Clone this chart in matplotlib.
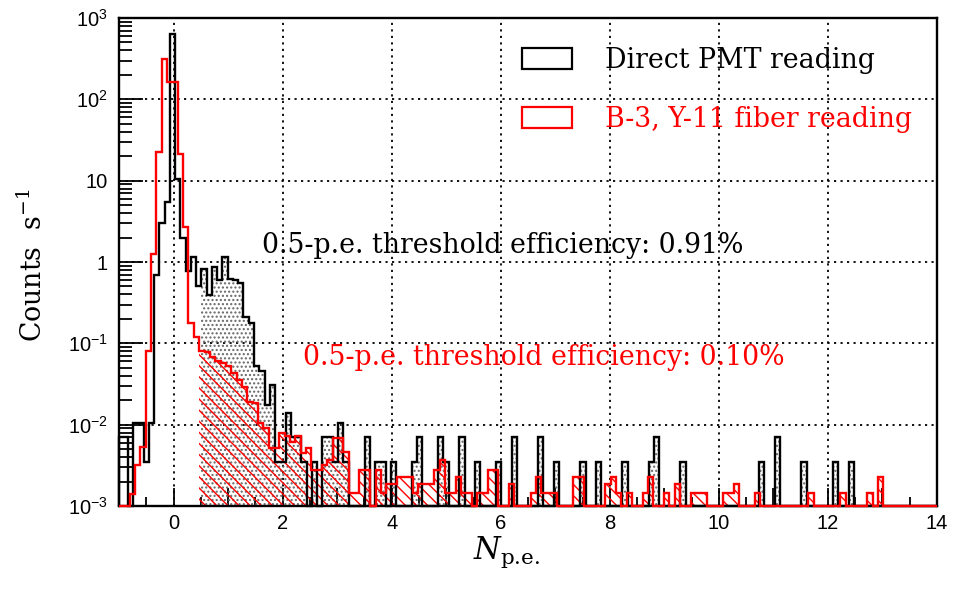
import numpy as np
import matplotlib
matplotlib.use('Agg')
from matplotlib import pyplot as plt
from matplotlib.patches import Patch
from matplotlib.ticker import FixedLocator, FixedFormatter, LogLocator, NullFormatter

# binning of the two charge spectra, in p.e.
pmt_x0, pmt_width = -1.033, 0.0965
fib_x0, fib_width = -1.0, 0.098

# direct PMT reading: rate per bin (counts/s), first bins up to ~3.2 p.e.
pmt_core = [
    7e-3, 7e-3, 0, 1.05e-2, 1.05e-2, 3.5e-3, 1.05e-2, 0.70, 3.05, 5.4,
    640, 10.5, 2.0, 0.78, 1.16, 0.50, 0.82, 0.39, 0.86, 0.60,
    1.15, 0.62, 0.60, 0.55, 0.21, 0.18, 0.052, 0.046, 0.0175, 0.031,
    3.5e-3, 3.5e-3, 0.014, 7e-3, 7e-3, 3.5e-3, 0, 3.5e-3, 0, 7e-3,
    7e-3, 3.5e-3, 1.05e-2, 3.5e-3,
]
# sparse tail of the direct reading
pmt_tail_pe = [3.57, 3.75, 3.84, 4.03, 4.45, 4.54, 4.91, 5.00, 5.29, 5.61,
               5.98, 6.28, 6.75, 7.04, 7.52, 7.81, 8.29, 8.77, 8.87, 9.37,
               10.79, 11.09, 11.57, 12.15, 12.44]
pmt_tail_rate = [7e-3, 3.5e-3, 3.5e-3, 3.5e-3, 3.5e-3, 7e-3, 7e-3, 3.5e-3, 7e-3, 3.5e-3,
                 3.5e-3, 7e-3, 7e-3, 3.5e-3, 3.5e-3, 3.5e-3, 3.5e-3, 3.5e-3, 7e-3, 3.5e-3,
                 3.5e-3, 7e-3, 3.5e-3, 3.5e-3, 3.5e-3]

# B-3 scintillator read out through Y-11 fibre
fib_core = [
    0, 0, 1.4e-3, 3.2e-3, 5.3e-3, 0.08, 1.25, 22.8, 312, 162,
    162, 21.2, 2.7, 0.177, 0.12, 0.081, 0.079, 0.068, 0.060, 0.058,
    0.052, 0.043, 0.035, 0.029, 0.019, 0.0183, 0.0104, 0.009, 5.1e-3, 5.1e-3,
    7.8e-3, 7.3e-3, 6.2e-3, 7.3e-3, 4.5e-3, 5.1e-3, 2.77e-3, 2.77e-3, 3.2e-3, 3.7e-3,
    6.8e-3, 6.8e-3, 4.6e-3, 1.43e-3, 1.43e-3, 2.77e-3, 2.77e-3, 0, 2.77e-3, 1.43e-3,
    1.86e-3, 1.86e-3, 2.3e-3, 2.3e-3, 2.3e-3, 1.43e-3, 1.86e-3, 1.86e-3, 1.86e-3, 2.77e-3,
    3.68e-3, 1.43e-3, 1.43e-3, 2.3e-3, 1.43e-3, 1.43e-3, 0, 1.43e-3, 1.43e-3, 2.77e-3,
    2.77e-3,
]
fib_tail_pe = [6.20, 6.60, 6.69, 6.79, 6.89, 6.99, 7.38, 7.48, 7.97, 8.07,
               8.16, 8.36, 8.65, 8.75, 9.05, 9.24, 9.54, 9.63, 9.73, 10.12,
               10.22, 10.32, 10.71, 11.69, 12.28, 12.77, 12.97]
fib_tail_rate = [1.86e-3, 1.43e-3, 2.3e-3, 1.43e-3, 1.43e-3, 1.43e-3, 2.3e-3, 2.3e-3, 1.86e-3, 2.3e-3,
                 1.43e-3, 1.43e-3, 1.43e-3, 2.3e-3, 1.43e-3, 1.86e-3, 1.43e-3, 1.43e-3, 1.43e-3, 1.43e-3,
                 1.43e-3, 1.86e-3, 1.43e-3, 1.43e-3, 1.43e-3, 1.43e-3, 2.3e-3]

threshold = 0.5
eff_pmt = 0.91
eff_fib = 0.10
labels = ['Direct PMT reading', 'B-3, Y-11 fiber reading']

xmin, xmax = -1, 14
ymin, ymax = 1e-3, 1e3


def build_hist(x0, width, core, tail_pe, tail_rate):
    nbins = int((xmax - x0) / width) + 1
    edges = np.clip(x0 + width * np.arange(nbins + 1), xmin, xmax)
    vals = np.zeros(nbins)
    vals[:len(core)] = core
    idx = np.floor((np.array(tail_pe) - x0) / width).astype(int)
    vals[idx] = tail_rate
    return edges, vals


plt.rcParams['font.family'] = ['Liberation Sans', 'DejaVu Sans']
plt.rcParams['mathtext.fontset'] = 'custom'
plt.rcParams['mathtext.rm'] = 'Liberation Sans'
plt.rcParams['mathtext.it'] = 'Liberation Sans:italic'
plt.rcParams['hatch.linewidth'] = 1.0
serif = 'DejaVu Serif'
tsize = 19.3

fig = plt.figure(figsize=(9.57, 5.90), dpi=100)
ax = fig.add_axes([119 / 957, 1 - 506 / 590, 818 / 957, 488 / 590])
ax.set_yscale('log')


def draw(edges, vals, color, hatch, hatch_color):
    shown = np.maximum(vals, ymin)
    centers = 0.5 * (edges[:-1] + edges[1:])
    first = int(np.argmax(centers >= threshold))
    ax.stairs(shown[first:], edges[first:], baseline=ymin, fill=True,
              facecolor='none', edgecolor=hatch_color, hatch=hatch,
              linewidth=0, zorder=2)
    ax.stairs(shown, edges, baseline=ymin, color=color, lw=1.7,
              zorder=3, clip_on=False)


e, v = build_hist(pmt_x0, pmt_width, pmt_core, pmt_tail_pe, pmt_tail_rate)
draw(e, v, 'black', '....', '#666666')
e, v = build_hist(fib_x0, fib_width, fib_core, fib_tail_pe, fib_tail_rate)
draw(e, v, 'red', '\\\\\\', 'red')

ax.set_xlim(xmin, xmax)
ax.set_ylim(ymin, ymax)

# grid at labelled x ticks and at decades
dot = (0, (1.2, 2.4))
for gx in range(0, 13, 2):
    ax.axvline(gx, color='black', lw=1.3, ls=dot, zorder=1)
for gy in 10.0 ** np.arange(-2, 3):
    ax.axhline(gy, color='black', lw=1.3, ls=dot, zorder=1)

decades = 10.0 ** np.arange(-3, 4)
ax.yaxis.set_major_locator(FixedLocator(decades))
ax.yaxis.set_major_formatter(FixedFormatter(
    [r'$10^{-3}$', r'$10^{-2}$', r'$10^{-1}$', '1', '10', r'$10^{2}$', r'$10^{3}$']))
ax.yaxis.set_minor_locator(LogLocator(base=10, subs=np.arange(2, 10)))
ax.yaxis.set_minor_formatter(NullFormatter())

xt = np.arange(-1, 15)
ax.xaxis.set_major_locator(FixedLocator(xt))
ax.xaxis.set_major_formatter(FixedFormatter(
    [str(t) if t >= 0 and t % 2 == 0 else '' for t in xt]))
ax.xaxis.set_minor_locator(FixedLocator(np.arange(-0.5, 14, 1.0)))

ax.tick_params(axis='both', which='both', direction='in', width=1.3,
               colors='black', labelsize=14.5, top=False, right=False)
ax.tick_params(axis='y', which='major', length=17, pad=8)
ax.tick_params(axis='y', which='minor', length=9)
ax.tick_params(axis='x', which='major', length=13, pad=6)
ax.tick_params(axis='x', which='minor', length=6.5)
for s in ax.spines.values():
    s.set_linewidth(1.7)

ax.set_ylabel(r'Counts  s$^{-1}$', family=serif, size=tsize, math_fontfamily='dejavuserif')
ax.yaxis.set_label_coords(-0.087, 0.494)
ax.set_xlabel(r'$N_{\text{p.e.}}$', size=22, math_fontfamily='dejavuserif')
ax.xaxis.set_label_coords(0.474, -0.06)

ax.text(0.1748, 0.5348, f'{threshold}-p.e. threshold efficiency: {eff_pmt:.2f}%',
        transform=ax.transAxes, family=serif, size=tsize, va='center', color='black')
ax.text(0.2249, 0.3033, f'{threshold}-p.e. threshold efficiency: {eff_fib:.2f}%',
        transform=ax.transAxes, family=serif, size=tsize, va='center', color='red')

handles = [Patch(facecolor='none', edgecolor='black', lw=1.6, label=labels[0]),
           Patch(facecolor='none', edgecolor='red', lw=1.6, label=labels[1])]
ax.legend(handles=handles, loc='upper left', bbox_to_anchor=(0.4927, 0.941),
          frameon=False, prop={'family': serif, 'size': tsize}, labelcolor=['black', 'red'],
          handlelength=1.87, handleheight=0.86, handletextpad=1.23,
          labelspacing=1.2, borderpad=0, borderaxespad=0)

fig.savefig('out.png', dpi=100)
